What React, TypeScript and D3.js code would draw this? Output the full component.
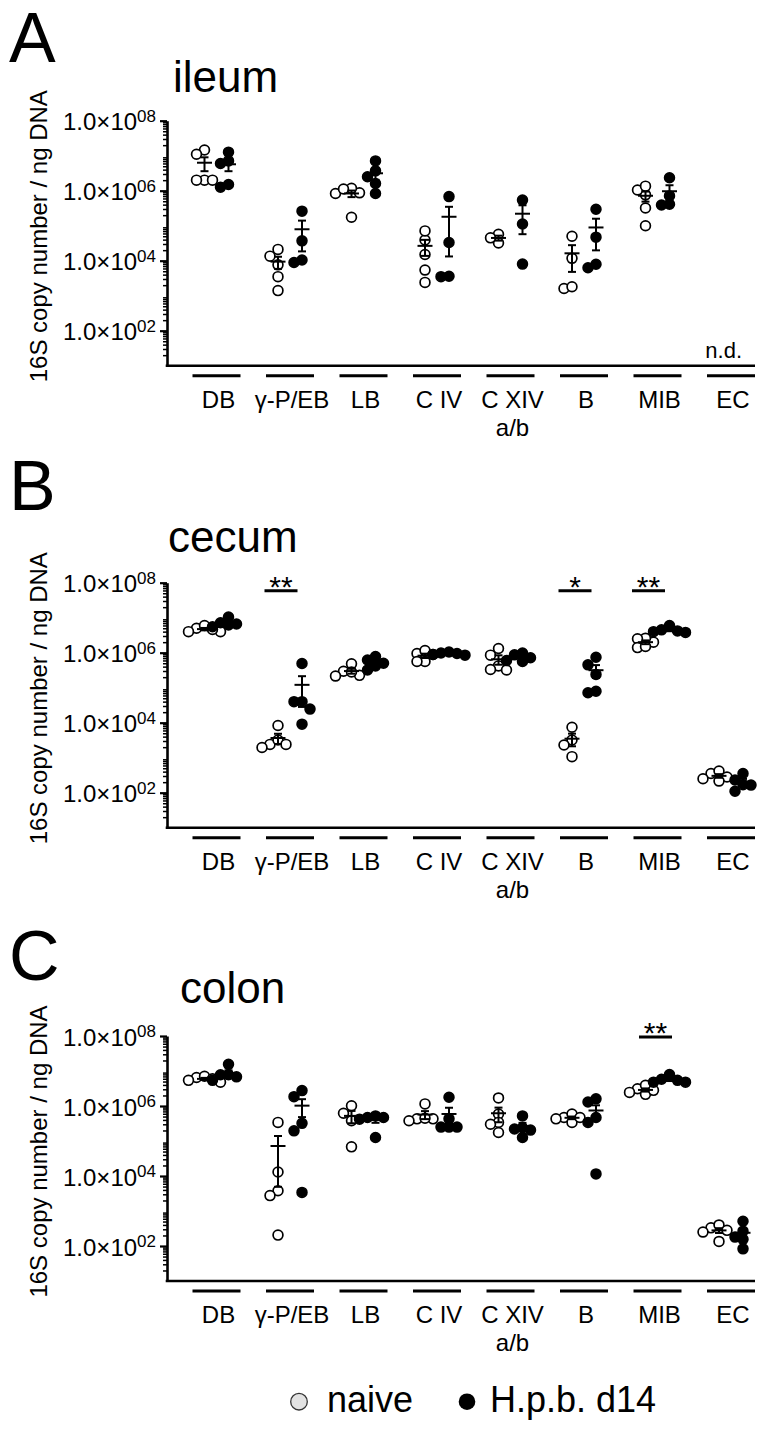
import React, { useEffect, useRef } from "react";
import * as d3 from "d3";

// categories on the x axis, second label line only for C XIV
const categories = ["DB", "γ-P/EB", "LB", "C IV", "C XIV", "B", "MIB", "EC"];
const categorySubLabels = ["", "", "", "", "a/b", "", "", ""];

// y axis ticks (log scale)
const tickValues = [1e2, 1e4, 1e6, 1e8];
const tickExponents = ["02", "04", "06", "08"];
const yTitle = "16S copy number / ng DNA";
const legendLabels = ["naive", "H.p.b. d14"];

// ileum - one array per category, same order as `categories`
const ileumNaive = [
    [1.45e7, 1.1e7, 2.0e6, 2.0e6, 2.0e6],
    [1.35e4, 7.6e3, 2.1e4, 3.5e3, 1.4e3],
    [8.7e5, 1.17e6, 8.3e5, 1.12e6, 1.75e5],
    [3.9e4, 7.1e4, 1.5e4, 5.4e3, 2.4e3],
    [5.7e4, 3.2e4, 4.5e4],
    [5.0e4, 1.17e4, 1.6e3, 1.8e3],
    [7.6e5, 1.05e6, 1.35e6, 3.2e5, 1.0e5],
    [],
];
const ileumHpb = [
    [7.1e6, 6.0e6, 1.26e7, 1.26e6, 1.5e6],
    [2.6e5, 3.7e4, 8.9e3, 1.05e4],
    [3.7e6, 7.1e6, 2.5e6, 1.6e6, 8.3e5],
    [6.8e5, 3.3e4, 3.5e3, 3.6e3],
    [5.4e5, 1.12e5, 8.0e3],
    [2.95e5, 4.7e4, 6.3e3, 7.9e3],
    [7.1e5, 2.35e6, 3.9e5, 4.1e5],
    [],
];

// cecum
const cecumNaive = [
    [5.0e6, 4.0e6, 6.0e6, 4.0e6, 4.6e6],
    [2.4e3, 8.3e3, 3.2e3, 1.95e3, 2.4e3],
    [2.95e5, 4.8e5, 2.15e5, 2.25e5, 2.8e5],
    [9.5e5, 1.15e6, 5.6e5, 5.6e5, 8.9e5],
    [1.32e6, 8.5e5, 4.2e5, 3.2e5, 3.3e5],
    [7.4e3, 3.2e3, 2.3e3, 1.07e3],
    [2.0e6, 2.6e6, 2.5e6, 1.4e6, 1.5e6],
    [355, 415, 280, 215, 250],
];
const cecumHpb = [
    [7.2e6, 6.2e6, 1.05e7, 6.6e6, 5.5e6],
    [4.9e5, 4.0e4, 4.0e4, 2.45e4, 9.1e3],
    [6.2e5, 7.8e5, 3.2e5, 4.2e5, 5.0e5],
    [9.5e5, 1.05e6, 8.9e5, 8.5e5, 9.8e5],
    [9.8e5, 8.7e5, 7.2e5, 6.0e5, 5.6e5],
    [7.4e5, 4.5e5, 2.4e5, 7.2e4, 7.9e4],
    [6.0e6, 4.2e6, 4.0e6, 3.8e6, 4.5e6],
    [355, 170, 230, 165, 110],
];

// colon
const colonNaive = [
    [6.5e6, 4.8e6, 7.1e6, 5.4e6, 6.0e6],
    [3.4e5, 1.3e4, 3.8e3, 2.75e3, 205],
    [6.2e5, 3.8e5, 1.02e6, 6.8e4],
    [4.3e5, 1.15e6, 3.8e5, 4.3e5, 4.5e5],
    [1.7e6, 5.9e5, 3.4e5, 3.0e5, 1.75e5],
    [4.7e5, 5.9e5, 3.4e5, 4.3e5, 4.7e5],
    [3.1e6, 3.9e6, 2.45e6, 2.15e6, 2.8e6],
    [330, 400, 250, 135, 280],
];
const colonHpb = [
    [7.8e6, 6.8e6, 1.55e7, 7.8e6, 5.4e6],
    [3.2e5, 1.85e6, 2.75e6, 1.95e5, 3.4e3],
    [4.7e5, 4.7e5, 5.2e5, 1.26e5, 4.2e5],
    [2.5e5, 1.78e6, 2.5e5, 4.3e5, 2.5e5],
    [5.2e5, 2.2e5, 2.4e5, 2.05e5, 1.26e5],
    [1.3e6, 1.6e6, 4.7e5, 3.4e5, 1.15e4],
    [7.9e6, 5.4e6, 4.8e6, 4.8e6, 5.8e6],
    [510, 265, 180, 155, 83],
];

// significance marks
const ileumSig: { category: string; label: string }[] = [];
const cecumSig = [
    { category: "γ-P/EB", label: "**" },
    { category: "B", label: "*" },
    { category: "MIB", label: "**" },
];
const colonSig = [{ category: "MIB", label: "**" }];

const panels = [
    { letter: "A", title: "ileum", naive: ileumNaive, hpb: ileumHpb, sig: ileumSig, nd: ["EC"] },
    { letter: "B", title: "cecum", naive: cecumNaive, hpb: cecumHpb, sig: cecumSig, nd: [] as string[] },
    { letter: "C", title: "colon", naive: colonNaive, hpb: colonHpb, sig: colonSig, nd: [] as string[] },
];

// layout per panel (pixels)
const panelLayout = [
    { top: 120.7, letterY: 62, titleX: 173, titleY: 92, sigDy: 8, sigDx: -9 },
    { top: 582.7, letterY: 510, titleX: 168, titleY: 551.7, sigDy: 8, sigDx: -9 },
    { top: 1036, letterY: 980, titleX: 180, titleY: 1003, sigDy: 1, sigDx: -2 },
];

const FONT = "'Liberation Sans', Arial, Helvetica, sans-serif";

// simple beeswarm: spread points sideways when they overlap
function swarm(values: number[], py: (v: number) => number, step: number, minDist: number) {
    const order = values.map((_, i) => i).sort((a, b) => values[b] - values[a]);
    const placed: { dx: number; y: number }[] = [];
    const out: number[] = new Array(values.length).fill(0);
    const cands = [0, -step, step, -step / 2, step / 2, -2 * step, 2 * step];
    for (const i of order) {
        const y = py(values[i]);
        let best = 0;
        let bestD = -1;
        for (const c of cands) {
            const d = placed.length ? (d3.min(placed, p => Math.hypot(p.dx - c, p.y - y)) as number) : Infinity;
            if (d >= minDist) { best = c; break; }
            if (d > bestD && Math.abs(c) <= step) { bestD = d; best = c; }
        }
        placed.push({ dx: best, y });
        out[i] = best;
    }
    return out;
}

const App = () => {
    const svgRef = useRef<SVGSVGElement>(null);

    useEffect(() => {
        const svg = d3.select(svgRef.current);
        svg.selectAll("*").remove();

        const dims = { width: 769, height: 1433, axisX: 167, decades: 7, decadePx: 35 };

        const x = d3.scalePoint<string>().domain(categories).range([216.5, 731]);
        const groupDx = [-12, 12];
        const halfBar = 24;

        // minor ticks 2..9 x 10^n
        const minorTicks: number[] = [];
        for (let e = 1; e < 8; e++) for (let k = 2; k <= 9; k++) minorTicks.push(k * Math.pow(10, e));

        panels.forEach((panel, pi) => {
            const lay = panelLayout[pi];
            const bottom = lay.top + dims.decades * dims.decadePx;
            const y = d3.scaleLog().domain([10, 1e8]).range([bottom, lay.top]);
            const g = svg.append("g");

            // panel letter + title
            g.append("text").attr("x", 9).attr("y", lay.letterY)
                .attr("font-size", 70).attr("font-family", FONT).text(panel.letter);
            g.append("text").attr("x", lay.titleX).attr("y", lay.titleY)
                .attr("font-size", 44).attr("font-family", FONT).text(panel.title);

            // y axis title
            const mid = (lay.top + bottom) / 2 - 7;
            g.append("text")
                .attr("transform", `translate(47,${mid}) rotate(-90)`)
                .attr("text-anchor", "middle").attr("font-size", 24).attr("font-family", FONT)
                .text(yTitle);

            // minor ticks
            g.append("g")
                .attr("transform", `translate(${dims.axisX},0)`)
                .call(d3.axisLeft(y).tickValues(minorTicks).tickSize(4).tickFormat(() => ""))
                .call(s => s.select(".domain").remove())
                .call(s => s.selectAll("line").attr("stroke-width", 1.5));

            // major ticks + axis line
            g.append("g")
                .attr("transform", `translate(${dims.axisX},0)`)
                .call(d3.axisLeft(y).tickValues(tickValues).tickSize(7).tickSizeOuter(0).tickFormat(() => ""))
                .call(s => s.select(".domain").attr("stroke-width", 2.6))
                .call(s => s.selectAll("line").attr("stroke-width", 2.2));

            // tick labels 1.0x10^nn
            tickValues.forEach((t, i) => {
                const tx = g.append("text")
                    .attr("x", 156).attr("y", y(t) + 9.5)
                    .attr("text-anchor", "end").attr("font-size", 24).attr("font-family", FONT);
                tx.append("tspan").text("1.0×10");
                tx.append("tspan").attr("dy", -8.5).attr("font-size", 17).text(tickExponents[i]);
            });

            // x axis line
            const xEnd = (x(categories[categories.length - 1]) as number) + halfBar;
            g.append("line")
                .attr("x1", dims.axisX - 1.3).attr("x2", xEnd)
                .attr("y1", bottom).attr("y2", bottom)
                .attr("stroke", "black").attr("stroke-width", 2.6);

            // category bars and labels
            categories.forEach((c, ci) => {
                const cx = x(c) as number;
                g.append("line")
                    .attr("x1", cx - halfBar).attr("x2", cx + halfBar)
                    .attr("y1", bottom + 10).attr("y2", bottom + 10)
                    .attr("stroke", "black").attr("stroke-width", 3);
                g.append("text")
                    .attr("x", cx + 2).attr("y", bottom + 42)
                    .attr("text-anchor", "middle").attr("font-size", 24).attr("font-family", FONT)
                    .text(c);
                if (categorySubLabels[ci]) {
                    g.append("text")
                        .attr("x", cx + 2).attr("y", bottom + 70)
                        .attr("text-anchor", "middle").attr("font-size", 24).attr("font-family", FONT)
                        .text(categorySubLabels[ci]);
                }
            });

            // n.d.
            panel.nd.forEach(c => {
                g.append("text")
                    .attr("x", (x(c) as number) + 11).attr("y", bottom - 8)
                    .attr("text-anchor", "end").attr("font-size", 22).attr("font-family", FONT)
                    .text("n.d.");
            });

            // points and mean +/- SEM
            [panel.naive, panel.hpb].forEach((series, gi) => {
                series.forEach((vals, ci) => {
                    if (!vals.length) return;
                    const cx = (x(categories[ci]) as number) + groupDx[gi];
                    const offs = swarm(vals, v => y(v), 8, 8);

                    g.append("g").selectAll("circle")
                        .data(vals)
                        .join("circle")
                        .attr("cx", (_, i) => cx + offs[i])
                        .attr("cy", d => y(d))
                        .attr("r", 4.9)
                        .attr("fill", gi === 0 ? "white" : "black")
                        .attr("stroke", "black")
                        .attr("stroke-width", 1.7);

                    const mean = d3.mean(vals) as number;
                    const sem = (d3.deviation(vals) || 0) / Math.sqrt(vals.length);
                    const lo = mean - sem > 10 ? y(mean - sem) : bottom;
                    const hi = y(mean + sem);
                    const eb = g.append("g").attr("stroke", "black").attr("stroke-width", 2);
                    eb.append("line").attr("x1", cx).attr("x2", cx).attr("y1", lo).attr("y2", hi);
                    eb.append("line").attr("x1", cx - 4).attr("x2", cx + 4).attr("y1", lo).attr("y2", lo);
                    eb.append("line").attr("x1", cx - 4).attr("x2", cx + 4).attr("y1", hi).attr("y2", hi);
                    eb.append("line").attr("x1", cx - 7.5).attr("x2", cx + 7.5).attr("y1", y(mean)).attr("y2", y(mean));
                });
            });

            // significance
            panel.sig.forEach(s => {
                const cx = (x(s.category) as number) + lay.sigDx;
                const ly = lay.top + lay.sigDy;
                g.append("line")
                    .attr("x1", cx - 16.5).attr("x2", cx + 16.5)
                    .attr("y1", ly).attr("y2", ly)
                    .attr("stroke", "black").attr("stroke-width", 3);
                g.append("text")
                    .attr("x", cx).attr("y", ly + 6)
                    .attr("text-anchor", "middle").attr("font-size", 30).attr("font-family", FONT)
                    .text(s.label);
            });
        });

        // legend
        const legY = 1401.7;
        const leg = svg.append("g");
        leg.append("circle").attr("cx", 299).attr("cy", legY).attr("r", 8.3)
            .attr("fill", "#e2e2e2").attr("stroke", "#333").attr("stroke-width", 1.3);
        leg.append("text").attr("x", 327).attr("y", legY + 10)
            .attr("font-size", 36).attr("font-family", FONT).text(legendLabels[0]);
        leg.append("circle").attr("cx", 467).attr("cy", legY).attr("r", 8.3).attr("fill", "black");
        leg.append("text").attr("x", 490).attr("y", legY + 10)
            .attr("font-size", 36).attr("font-family", FONT).text(legendLabels[1]);
    }, []);

    return (
        <div style={{ position: "absolute", left: 0, top: 0, background: "white" }}>
            <svg ref={svgRef} width={769} height={1433} style={{ display: "block" }}></svg>
        </div>
    );
};

export default App;
